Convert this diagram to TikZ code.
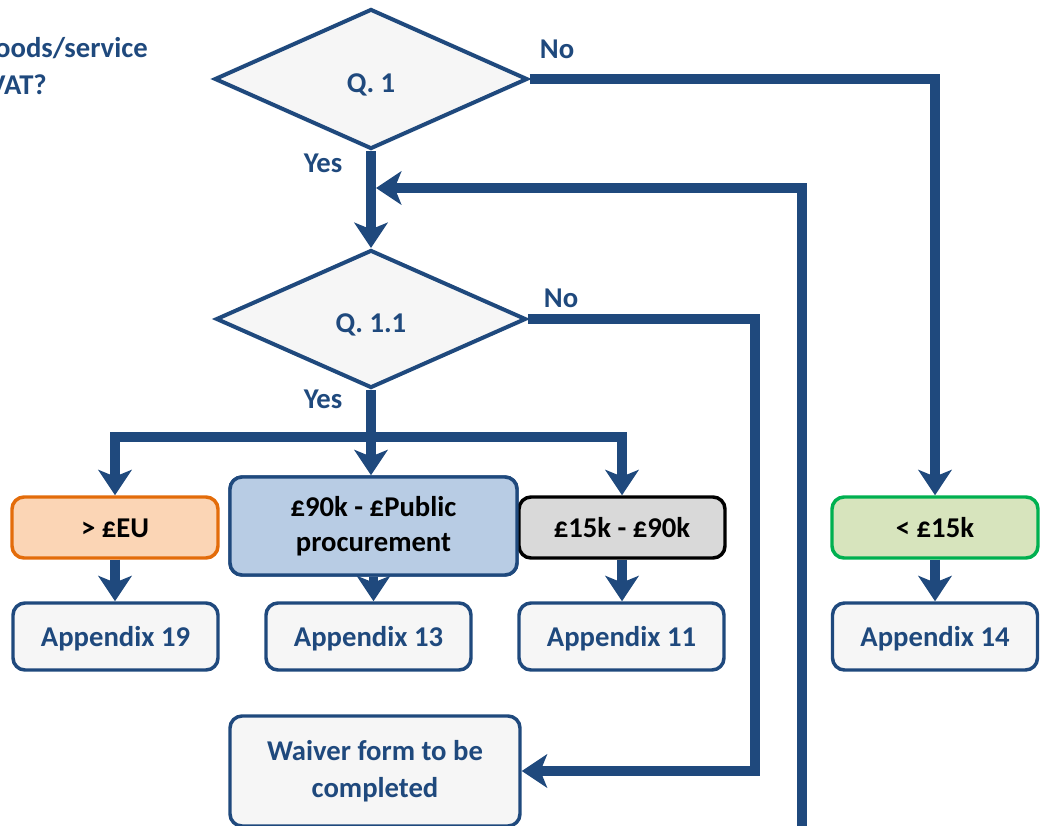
\documentclass[tikz,border=0pt]{standalone}
\usepackage{fontspec}
\setmainfont{Carlito}
\usetikzlibrary{shapes.geometric,arrows.meta}
\definecolor{dblue}{HTML}{1F497D}
\definecolor{lightfill}{HTML}{F6F6F6}
\definecolor{orangeb}{HTML}{E36C0A}
\definecolor{orangef}{HTML}{FBD5B5}
\definecolor{bluef}{HTML}{B8CCE4}
\definecolor{greyf}{HTML}{D9D9D9}
\definecolor{greenb}{HTML}{00B050}
\definecolor{greenf}{HTML}{D7E4BD}
\tikzset{
  conn/.style={draw=dblue, line width=7pt, line join=miter},
  arr/.style={conn, -{Stealth[length=19pt,width=25pt,inset=5pt]}},
  decision/.style={diamond, draw=dblue, line width=3pt, fill=lightfill, text=dblue, inner sep=0pt, aspect=2.2, text height=20pt, text depth=0pt},
  box/.style={rectangle, rounded corners=9pt, line width=2.6pt, align=center, inner sep=0pt},
  appbox/.style={box, draw=dblue, fill=lightfill, text=dblue, minimum width=153.75pt, minimum height=50.25pt, text height=17pt, text depth=2pt},
  catbox/.style={box, text=black, minimum width=154.5pt, minimum height=45.75pt, text height=17pt, text depth=2pt},
  lbl/.style={text=dblue, inner sep=0pt}
}
\begin{document}
\begin{tikzpicture}[x=0.75pt,y=-0.75pt,font=\fontsize{21.5}{26}\selectfont\bfseries]
\useasboundingbox (0,0) rectangle (1049,825);
\clip (0,0) rectangle (1049,825);

% partial question text at left edge (cut off by the picture edge, as in the reference)
\node[lbl, anchor=east] (qa) at (148,50) {goods/service};
\node[lbl, anchor=east] (qb) at (47,85) {VAT?};

% decisions
\node[decision, minimum width=234.75pt, minimum height=105pt] (q1) at (371,79) {Q. 1};
\node[decision, minimum width=232.5pt, minimum height=103.5pt] (q11) at (371,319) {Q. 1.1};

% category boxes
\node[catbox, draw=orangeb, fill=orangef] (eu) at (115,527.5) {> £EU};
\node[box, draw=dblue, fill=bluef, text=black, minimum width=215.25pt, minimum height=73.5pt] (pub) at (373.5,526) {£90k - £Public\\procurement};
\node[catbox, draw=black, fill=greyf] (mid) at (622,527.5) {£15k - £90k};
\node[catbox, draw=greenb, fill=greenf] (low) at (935,527.5) {< £15k};

% appendices
\node[appbox] (a19) at (115.5,636.5) {Appendix 19};
\node[appbox] (a13) at (368.5,636.5) {Appendix 13};
\node[appbox] (a11) at (621.5,636.5) {Appendix 11};
\node[appbox] (a14) at (935,636.5) {Appendix 14};

% waiver
\node[box, draw=dblue, fill=lightfill, text=dblue, minimum width=217.5pt, minimum height=82.5pt, font=\fontsize{21.5}{27.5}\selectfont\bfseries] (w) at (375,771) {Waiver form to be\\completed};

% helper coordinates
\coordinate (j1) at (376,188);
\coordinate (lb) at (802,840);
\coordinate (c2) at (755,319);
\coordinate (s) at (371,437);

% connectors
\draw[arr] (q1.south) -- (q11.north);
\draw[arr] (lb) |- (j1);
\draw[arr] (q1.east) -| (low.north);
\draw[arr] (q11.east) -- (c2) |- (w.east);
\draw[conn] (q11.south) -- (s);
\draw[arr] (s) -| (eu.north);
\draw[arr] (s) -| (mid.north);
\draw[arr] (s) -- (s |- pub.north);
\draw[arr] (eu.south) -- (eu.south |- a19.north);
\draw[arr] (pub.south) -- (pub.south |- a13.north);
\draw[arr] (mid.south) -- (mid.south |- a11.north);
\draw[arr] (low.south) -- (low.south |- a14.north);

% redraw pub box above its arrow into Appendix 13 (as in reference)
\node[box, draw=dblue, fill=bluef, text=black, minimum width=215.25pt, minimum height=73.5pt] (pub2) at (373.5,526) {£90k - £Public\\procurement};

% labels
\node[lbl] (y1) at (323,163) {Yes};
\node[lbl] (n1) at (557,49) {No};
\node[lbl] (n2) at (561,298) {No};
\node[lbl] (y2) at (323,399) {Yes};
\end{tikzpicture}
\end{document}
